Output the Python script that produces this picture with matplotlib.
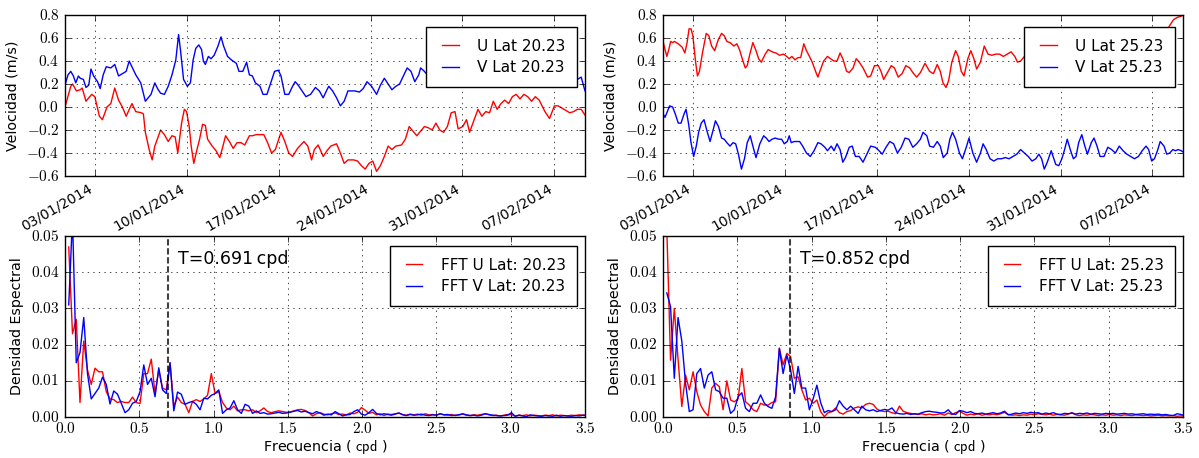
import numpy as np
import pandas as pd
import matplotlib
matplotlib.use("Agg")
import matplotlib.pyplot as plt
import matplotlib.dates as mdates
from matplotlib.ticker import FuncFormatter, MultipleLocator

plt.style.use("classic")
plt.rcParams["mathtext.fontset"] = "cm"
plt.rcParams["font.family"] = "DejaVu Sans"

# ---------------- datos ----------------
inicio = pd.Timestamp("2013-12-31 17:30")
duracion_dias = 39.6

# Lat 20.23 (dias desde el inicio, velocidad m/s)
dias_u20 = [0.00, 0.44, 0.58, 0.87, 1.16, 1.31, 1.60, 1.81, 2.04, 2.27,
            2.62, 2.85, 3.20, 3.49, 3.79, 4.08, 4.37, 4.66, 5.10, 5.39,
            5.82, 5.97, 6.12, 6.41, 6.64, 6.84, 7.28, 7.57, 7.86, 8.15,
            8.39, 8.59, 8.88, 9.09, 9.26, 9.46, 9.61, 9.81, 10.05, 10.25,
            10.48, 10.69, 10.86, 11.21, 11.50, 11.79, 12.03, 12.23, 12.52, 12.81,
            13.10, 13.40, 13.69, 14.04, 14.27, 14.56, 15.14, 15.43, 15.73, 16.02,
            16.45, 16.74, 17.04, 17.33, 17.71, 18.20, 18.49, 18.78, 18.99, 19.28,
            19.66, 19.95, 20.24, 20.68, 20.97, 21.26, 21.55, 21.99, 22.28, 22.57,
            22.86, 23.15, 23.44, 23.73, 24.02, 24.32, 24.61, 24.90, 25.19, 25.63,
            25.92, 26.21, 26.50, 26.79, 27.08, 27.37, 27.66, 27.96, 28.25, 28.54,
            28.83, 29.12, 29.41, 29.70, 29.94, 30.29, 30.58, 30.81, 31.16, 31.45,
            31.75, 32.04, 32.33, 32.62, 32.91, 33.20, 33.49, 33.78, 34.07, 34.36,
            34.65, 34.94, 35.24, 35.53, 35.82, 36.11, 36.55, 36.90, 37.27, 37.56,
            38.00, 38.44, 38.73, 39.02, 39.31, 39.60]
u20 = [0.00, 0.18, 0.20, 0.14, 0.15, 0.165, 0.05, 0.08, 0.11, 0.09,
       -0.08, -0.11, 0.00, 0.03, 0.165, 0.06, 0.00, -0.08, 0.03, -0.04,
       -0.05, -0.06, -0.22, -0.37, -0.46, -0.34, -0.20, -0.24, -0.30, -0.25,
       -0.26, -0.40, -0.14, -0.02, -0.04, -0.17, -0.34, -0.49, -0.37, -0.28,
       -0.15, -0.16, -0.28, -0.34, -0.38, -0.44, -0.34, -0.25, -0.30, -0.36,
       -0.31, -0.31, -0.33, -0.25, -0.25, -0.24, -0.24, -0.31, -0.40, -0.37,
       -0.22, -0.30, -0.40, -0.43, -0.36, -0.30, -0.34, -0.46, -0.37, -0.33,
       -0.43, -0.38, -0.34, -0.32, -0.40, -0.49, -0.46, -0.46, -0.47, -0.51,
       -0.54, -0.49, -0.47, -0.56, -0.51, -0.43, -0.34, -0.37, -0.34, -0.33,
       -0.28, -0.17, -0.21, -0.25, -0.21, -0.17, -0.18, -0.20, -0.14, -0.20,
       -0.22, -0.17, -0.05, -0.04, -0.19, -0.17, -0.11, -0.22, -0.11, -0.02,
       -0.08, -0.04, -0.05, 0.05, -0.02, 0.03, 0.06, 0.03, 0.09, 0.11,
       0.07, 0.11, 0.09, 0.05, 0.09, 0.06, -0.04, -0.10, 0.01, 0.01,
       -0.02, -0.05, -0.04, -0.02, -0.02, -0.07]

dias_v20 = [0.00, 0.23, 0.44, 0.64, 0.82, 1.02, 1.16, 1.40, 1.60, 1.81,
            1.98, 2.18, 2.48, 2.68, 2.91, 3.14, 3.49, 3.79, 4.08, 4.37,
            4.66, 4.89, 5.10, 5.39, 5.77, 5.97, 6.12, 6.41, 6.55, 6.84,
            7.05, 7.28, 7.57, 7.86, 8.15, 8.44, 8.65, 8.79, 9.03, 9.32,
            9.55, 9.76, 9.96, 10.19, 10.40, 10.54, 10.69, 10.92, 11.12, 11.36,
            11.65, 11.88, 12.08, 12.38, 12.67, 13.05, 13.25, 13.54, 13.83, 14.04,
            14.27, 14.50, 14.85, 15.08, 15.38, 15.67, 15.96, 16.25, 16.45, 16.74,
            17.04, 17.33, 17.53, 17.76, 18.05, 18.35, 18.70, 19.07, 19.37, 19.66,
            19.95, 20.09, 20.38, 20.68, 20.97, 21.26, 21.55, 21.78, 22.07, 22.42,
            22.71, 23.00, 23.35, 23.73, 24.02, 24.32, 24.61, 24.90, 25.19, 25.48,
            25.77, 26.06, 26.35, 26.64, 26.94, 27.08, 27.37, 27.66, 27.96, 28.25,
            28.54, 28.83, 29.12, 29.41, 29.79, 29.99, 30.43, 30.87, 31.45, 31.89,
            32.33, 32.91, 33.49, 34.07, 34.65, 35.24, 35.82, 36.40, 36.98, 37.56,
            38.00, 38.44, 38.73, 39.02, 39.31, 39.60]
v20 = [0.19, 0.28, 0.31, 0.27, 0.21, 0.27, 0.25, 0.24, 0.17, 0.19,
       0.33, 0.27, 0.22, 0.16, 0.28, 0.35, 0.34, 0.37, 0.27, 0.29,
       0.31, 0.40, 0.35, 0.28, 0.21, 0.12, 0.05, 0.09, 0.11, 0.21,
       0.16, 0.12, 0.11, 0.18, 0.28, 0.41, 0.63, 0.50, 0.24, 0.18,
       0.21, 0.41, 0.51, 0.54, 0.50, 0.40, 0.37, 0.44, 0.42, 0.45,
       0.53, 0.61, 0.53, 0.44, 0.41, 0.38, 0.31, 0.31, 0.39, 0.28,
       0.27, 0.21, 0.18, 0.11, 0.11, 0.21, 0.31, 0.32, 0.27, 0.11,
       0.11, 0.18, 0.22, 0.19, 0.14, 0.09, 0.11, 0.17, 0.14, 0.08,
       0.15, 0.18, 0.14, 0.08, 0.01, 0.05, 0.14, 0.14, 0.14, 0.13,
       0.16, 0.22, 0.18, 0.11, 0.19, 0.25, 0.20, 0.15, 0.18, 0.20,
       0.27, 0.34, 0.31, 0.22, 0.28, 0.34, 0.31, 0.27, 0.25, 0.28,
       0.30, 0.28, 0.27, 0.26, 0.21, 0.30, 0.33, 0.30, 0.35, 0.30,
       0.33, 0.36, 0.31, 0.34, 0.30, 0.33, 0.35, 0.30, 0.28, 0.32,
       0.27, 0.24, 0.24, 0.24, 0.26, 0.14]

# Lat 25.23
dias_u25 = [0.00, 0.15, 0.29, 0.44, 0.58, 0.73, 0.87, 1.16, 1.46, 1.66,
            1.83, 1.98, 2.13, 2.27, 2.48, 2.62, 2.77, 3.00, 3.29, 3.49,
            3.70, 3.93, 4.22, 4.46, 4.66, 4.86, 5.10, 5.39, 5.62, 5.82,
            6.03, 6.26, 6.41, 6.61, 6.84, 7.08, 7.28, 7.48, 7.78, 8.01,
            8.30, 8.59, 8.88, 9.17, 9.41, 9.61, 9.81, 10.05, 10.28, 10.48,
            10.72, 10.92, 11.15, 11.36, 11.65, 11.79, 11.94, 12.23, 12.52, 12.75,
            13.02, 13.25, 13.48, 13.69, 13.98, 14.18, 14.47, 14.71, 14.94, 15.23,
            15.58, 15.81, 16.10, 16.39, 16.60, 16.80, 17.04, 17.38, 17.62, 17.91,
            18.20, 18.49, 18.78, 19.02, 19.31, 19.60, 19.95, 20.30, 20.59, 20.88,
            21.11, 21.32, 21.55, 21.75, 21.99, 22.28, 22.48, 22.71, 22.92, 23.21,
            23.44, 23.67, 23.88, 24.17, 24.46, 24.75, 25.04, 25.33, 25.63, 25.92,
            26.21, 26.50, 26.79, 26.99, 27.23, 27.52, 27.81, 28.25, 28.68, 29.12,
            29.56, 29.99, 30.43, 30.87, 31.30, 31.74, 32.18, 32.61, 33.05, 33.63,
            34.22, 34.80, 35.38, 35.96, 36.55, 37.13, 37.71, 38.15, 38.59, 38.88,
            39.17, 39.46, 39.60]
u25 = [0.57, 0.50, 0.44, 0.50, 0.57, 0.56, 0.57, 0.55, 0.52, 0.47,
       0.56, 0.68, 0.68, 0.62, 0.39, 0.27, 0.31, 0.47, 0.64, 0.62,
       0.53, 0.49, 0.59, 0.64, 0.62, 0.57, 0.56, 0.53, 0.55, 0.50,
       0.42, 0.34, 0.36, 0.46, 0.56, 0.49, 0.42, 0.39, 0.46, 0.50,
       0.48, 0.47, 0.45, 0.46, 0.44, 0.42, 0.44, 0.41, 0.43, 0.43,
       0.55, 0.49, 0.44, 0.39, 0.30, 0.26, 0.31, 0.40, 0.44, 0.42,
       0.40, 0.40, 0.47, 0.42, 0.31, 0.30, 0.34, 0.42, 0.39, 0.34,
       0.26, 0.27, 0.36, 0.36, 0.31, 0.24, 0.29, 0.36, 0.34, 0.26,
       0.29, 0.36, 0.34, 0.30, 0.26, 0.30, 0.38, 0.31, 0.29, 0.37,
       0.31, 0.21, 0.17, 0.23, 0.39, 0.49, 0.44, 0.31, 0.27, 0.42,
       0.49, 0.42, 0.33, 0.39, 0.53, 0.46, 0.45, 0.46, 0.46, 0.44,
       0.46, 0.48, 0.44, 0.39, 0.40, 0.44, 0.42, 0.48, 0.43, 0.50,
       0.45, 0.40, 0.47, 0.43, 0.50, 0.46, 0.42, 0.48, 0.44, 0.50,
       0.45, 0.49, 0.43, 0.47, 0.52, 0.48, 0.55, 0.62, 0.71, 0.76,
       0.78, 0.79, 0.80]

dias_v25 = [0.00, 0.15, 0.29, 0.50, 0.73, 0.93, 1.16, 1.37, 1.60, 1.75,
            1.95, 2.13, 2.33, 2.53, 2.71, 2.91, 3.12, 3.35, 3.58, 3.79,
            3.99, 4.22, 4.46, 4.66, 4.86, 5.10, 5.33, 5.53, 5.74, 5.97,
            6.20, 6.41, 6.64, 6.84, 7.08, 7.37, 7.66, 7.86, 8.07, 8.30,
            8.53, 8.82, 9.03, 9.23, 9.46, 9.61, 9.76, 9.99, 10.19, 10.40,
            10.63, 10.92, 11.21, 11.50, 11.79, 12.03, 12.32, 12.52, 12.81, 13.02,
            13.25, 13.48, 13.69, 13.89, 14.18, 14.41, 14.65, 14.94, 15.23, 15.52,
            15.81, 16.16, 16.45, 16.69, 16.98, 17.27, 17.56, 17.85, 18.14, 18.43,
            18.72, 19.02, 19.31, 19.60, 19.80, 20.09, 20.30, 20.59, 20.88, 21.11,
            21.34, 21.64, 21.84, 22.04, 22.28, 22.57, 22.80, 23.09, 23.30, 23.59,
            23.88, 24.17, 24.37, 24.61, 24.90, 25.19, 25.48, 25.77, 26.06, 26.35,
            26.64, 26.94, 27.23, 27.52, 27.81, 28.10, 28.39, 28.62, 28.83, 29.03,
            29.26, 29.56, 29.70, 29.91, 30.14, 30.37, 30.58, 30.78, 31.01, 31.25,
            31.45, 31.65, 31.89, 32.12, 32.32, 32.61, 32.82, 33.05, 33.28, 33.58,
            33.87, 34.16, 34.45, 34.74, 35.03, 35.32, 35.61, 35.90, 36.20, 36.49,
            36.78, 36.98, 37.21, 37.42, 37.65, 37.86, 38.15, 38.36, 38.59, 38.82,
            39.02, 39.23, 39.46, 39.60]
v25 = [-0.06, -0.09, -0.05, 0.01, 0.00, -0.06, -0.14, -0.14, -0.06, -0.02,
       -0.15, -0.31, -0.43, -0.34, -0.22, -0.14, -0.11, -0.21, -0.30, -0.21,
       -0.12, -0.17, -0.27, -0.28, -0.31, -0.34, -0.31, -0.32, -0.41, -0.54,
       -0.45, -0.31, -0.25, -0.34, -0.44, -0.32, -0.25, -0.27, -0.30, -0.28,
       -0.27, -0.28, -0.28, -0.32, -0.30, -0.25, -0.31, -0.30, -0.30, -0.30,
       -0.34, -0.40, -0.43, -0.38, -0.31, -0.32, -0.35, -0.38, -0.34, -0.38,
       -0.32, -0.37, -0.48, -0.44, -0.35, -0.34, -0.43, -0.43, -0.48, -0.41,
       -0.34, -0.35, -0.38, -0.41, -0.35, -0.30, -0.32, -0.40, -0.35, -0.27,
       -0.28, -0.35, -0.32, -0.28, -0.22, -0.25, -0.34, -0.35, -0.30, -0.34,
       -0.44, -0.40, -0.28, -0.22, -0.28, -0.40, -0.45, -0.35, -0.27, -0.40,
       -0.48, -0.40, -0.32, -0.37, -0.45, -0.47, -0.45, -0.45, -0.44, -0.45,
       -0.43, -0.41, -0.37, -0.40, -0.43, -0.47, -0.45, -0.41, -0.45, -0.54,
       -0.48, -0.38, -0.43, -0.50, -0.51, -0.45, -0.37, -0.28, -0.37, -0.45,
       -0.43, -0.31, -0.24, -0.34, -0.41, -0.31, -0.27, -0.34, -0.43, -0.43,
       -0.35, -0.37, -0.40, -0.34, -0.38, -0.41, -0.43, -0.45, -0.43, -0.38,
       -0.34, -0.37, -0.47, -0.45, -0.38, -0.30, -0.34, -0.41, -0.40, -0.37,
       -0.38, -0.37, -0.38, -0.39]

# espectros: un valor por cada frecuencia de Fourier k / duracion (k = 1..139)
fft_u20 = [0.047, 0.023, 0.027, 0.004, 0.021, 0.013, 0.009, 0.0135, 0.0125, 0.0125,
           0.007, 0.005, 0.0048, 0.004, 0.0043, 0.004, 0.004, 0.0055, 0.004, 0.0037,
           0.012, 0.012, 0.016, 0.0065, 0.013, 0.008, 0.0075, 0.015, 0.003, 0.0055,
           0.004, 0.0035, 0.0012, 0.0043, 0.0048, 0.0043, 0.005, 0.006, 0.012, 0.0065,
           0.007, 0.004, 0.0025, 0.002, 0.003, 0.0017, 0.002, 0.002, 0.0017, 0.002,
           0.0012, 0.0017, 0.0025, 0.0015, 0.0012, 0.0015, 0.0017, 0.0015, 0.0013, 0.0014,
           0.0017, 0.002, 0.0021, 0.0018, 0.0012, 0.0003, 0.0009, 0.0012, 0.0008, 0.0006,
           0.0009, 0.0011, 0.0007, 0.0008, 0.0006, 0.0011, 0.0009, 0.0013, 0.0026, 0.0019,
           0.001, 0.0013, 0.0006, 0.0009, 0.0004, 0.0008, 0.0007, 0.0009, 0.0011, 0.0007,
           0.0005, 0.0008, 0.0006, 0.0008, 0.0005, 0.0009, 0.0006, 0.0007, 0.0005, 0.0009,
           0.0006, 0.0005, 0.0007, 0.0004, 0.0006, 0.0008, 0.0005, 0.0004, 0.0006, 0.0005,
           0.0007, 0.0009, 0.0006, 0.0004, 0.0005, 0.0003, 0.0005, 0.0007, 0.0006, 0.0003,
           0.0005, 0.0004, 0.0006, 0.0003, 0.0005, 0.0004, 0.0003, 0.0005, 0.0004, 0.0006,
           0.0003, 0.0005, 0.0004, 0.0003, 0.0005, 0.0004, 0.0006, 0.0005, 0.0006]
fft_v20 = [0.031, 0.055, 0.015, 0.0178, 0.0275, 0.012, 0.005, 0.0065, 0.008, 0.011,
           0.009, 0.0036, 0.0072, 0.0063, 0.0038, 0.0012, 0.002, 0.0038, 0.0043, 0.007,
           0.0144, 0.009, 0.0107, 0.0056, 0.0136, 0.0075, 0.0065, 0.015, 0.0017, 0.0069,
           0.0063, 0.0035, 0.004, 0.0043, 0.0035, 0.002, 0.0052, 0.005, 0.006, 0.0065,
           0.0075, 0.001, 0.002, 0.0025, 0.0045, 0.002, 0.001, 0.0035, 0.003, 0.001,
           0.0017, 0.001, 0.0012, 0.0008, 0.0009, 0.0011, 0.0013, 0.0010, 0.0011, 0.0013,
           0.0016, 0.0018, 0.0014, 0.0016, 0.0012, 0.0009, 0.0015, 0.0011, 0.0005, 0.0008,
           0.0006, 0.0015, 0.0009, 0.0003, 0.0006, 0.0007, 0.0015, 0.002, 0.0008, 0.0005,
           0.0012, 0.0021, 0.001, 0.0006, 0.0009, 0.0007, 0.0005, 0.0008, 0.0011, 0.0006,
           0.0004, 0.0007, 0.0005, 0.0006, 0.0008, 0.0005, 0.0004, 0.0006, 0.0005, 0.0009,
           0.0006, 0.0007, 0.0004, 0.0005, 0.0006, 0.0009, 0.0006, 0.0004, 0.0005, 0.0003,
           0.0005, 0.0009, 0.0007, 0.0005, 0.0004, 0.0003, 0.0004, 0.0005, 0.0012, 0.0002,
           0.0005, 0.0003, 0.0001, 0.0006, 0.0004, 0.0003, 0.0002, 0.0004, 0.0003, 0.0002,
           0.0005, 0.0002, 0.0004, 0.0003, 0.0002, 0.0004, 0.0003, 0.0005, 0.0004]
fft_u25 = [0.052, 0.0157, 0.030, 0.016, 0.0029, 0.0116, 0.0075, 0.0125, 0.007, 0.0033,
           0.0015, 0.0003, 0.008, 0.0093, 0.0084, 0.002, 0.010, 0.0047, 0.0042, 0.005,
           0.0134, 0.0042, 0.0033, 0.002, 0.0015, 0.0038, 0.0033, 0.0033, 0.004, 0.0042,
           0.019, 0.0144, 0.0176, 0.0167, 0.0107, 0.0111, 0.0075, 0.0047, 0.0052, 0.0038,
           0.0047, 0.0015, 0.0001, 0.0012, 0.0015, 0.0025, 0.0012, 0.0008, 0.0015, 0.0018,
           0.0025, 0.0028, 0.0025, 0.0035, 0.0038, 0.0035, 0.0022, 0.0017, 0.0015, 0.0016,
           0.0012, 0.0009, 0.003, 0.0016, 0.0012, 0.001, 0.0008, 0.0007, 0.0009, 0.0006,
           0.0008, 0.0006, 0.0007, 0.0009, 0.0005, 0.0011, 0.0007, 0.0012, 0.0016, 0.0010,
           0.0005, 0.0008, 0.0006, 0.0009, 0.0005, 0.0007, 0.0006, 0.0008, 0.0006, 0.0009,
           0.0013, 0.0007, 0.0005, 0.0006, 0.0004, 0.0006, 0.0005, 0.0008, 0.0006, 0.0009,
           0.0007, 0.0006, 0.0008, 0.0005, 0.0007, 0.0006, 0.0005, 0.0008, 0.0012, 0.0006,
           0.0004, 0.0006, 0.0005, 0.0007, 0.0006, 0.0004, 0.0006, 0.0005, 0.0007, 0.0005,
           0.0006, 0.0004, 0.0006, 0.0005, 0.0004, 0.0006, 0.0005, 0.0004, 0.0005, 0.0003,
           0.0004, 0.0005, 0.0003, 0.0004, 0.0003, 0.0004, 0.0002, 0.0003, 0.0003]
fft_v25 = [0.0343, 0.0305, 0.0107, 0.0275, 0.021, 0.0093, 0.0015, 0.002, 0.012, 0.0134,
           0.008, 0.0116, 0.0125, 0.0075, 0.007, 0.0052, 0.0052, 0.001, 0.002, 0.0056,
           0.0067, 0.0024, 0.0015, 0.0038, 0.0038, 0.0061, 0.0038, 0.0029, 0.0024, 0.0056,
           0.019, 0.012, 0.0171, 0.013, 0.0065, 0.014, 0.008, 0.008, 0.002, 0.005,
           0.0088, 0.004, 0.0012, 0.0018, 0.0015, 0.002, 0.0045, 0.003, 0.002, 0.003,
           0.002, 0.001, 0.003, 0.002, 0.0017, 0.0020, 0.0015, 0.0018, 0.0021, 0.0019,
           0.0025, 0.0012, 0.0009, 0.0008, 0.0010, 0.0007, 0.0009, 0.0008, 0.0012, 0.0015,
           0.0016, 0.0014, 0.0013, 0.0011, 0.0012, 0.0020, 0.0009, 0.0007, 0.0018, 0.0016,
           0.0012, 0.0015, 0.0010, 0.0009, 0.0011, 0.0008, 0.0010, 0.0012, 0.0009, 0.0011,
           0.0016, 0.0006, 0.0008, 0.0011, 0.0009, 0.0012, 0.0010, 0.0013, 0.0011, 0.0012,
           0.0008, 0.0011, 0.0009, 0.0012, 0.0008, 0.0007, 0.0010, 0.0009, 0.0011, 0.0008,
           0.0010, 0.0009, 0.0011, 0.0008, 0.0010, 0.0009, 0.0008, 0.0010, 0.0009, 0.0010,
           0.0008, 0.0009, 0.0010, 0.0008, 0.0009, 0.0007, 0.0008, 0.0009, 0.0007, 0.0008,
           0.0007, 0.0008, 0.0006, 0.0007, 0.0005, 0.0004, 0.0009, 0.0007, 0.0004]

# frecuencia dominante marcada en cada espectro (cpd)
pico_20 = 0.691
pico_25 = 0.852

frecuencia = np.arange(1, len(fft_u20) + 1) / duracion_dias


def fechas(dias):
    return inicio + pd.to_timedelta(dias, unit="D")


def formato(dec):
    return FuncFormatter(lambda v, p: r"$%.*f$" % (dec, v))


def leyenda(ax, y_ancla):
    ax.legend(loc="upper right", bbox_to_anchor=(0.985, y_ancla),
              borderaxespad=0.0, prop={"size": 11}, handlelength=1.7,
              handletextpad=0.9, borderpad=0.75, labelspacing=0.45,
              numpoints=2, fancybox=False, framealpha=1.0)


fig = plt.figure(figsize=(11.99, 4.58), dpi=100, facecolor="white")
ax_tl = fig.add_axes([0.0542, 0.6157, 0.4337, 0.3515])
ax_tr = fig.add_axes([0.553, 0.6157, 0.4337, 0.3515])
ax_bl = fig.add_axes([0.0542, 0.0895, 0.4337, 0.395])
ax_br = fig.add_axes([0.553, 0.0895, 0.4337, 0.395])

# ---- series de velocidad ----
series = [
    (ax_tl, dias_u20, u20, dias_v20, v20, "20.23"),
    (ax_tr, dias_u25, u25, dias_v25, v25, "25.23"),
]
for ax, du, u, dv, v, lat in series:
    ax.plot(fechas(du), u, color="r", lw=1.0, label="U Lat " + lat)
    ax.plot(fechas(dv), v, color="b", lw=1.0, label="V Lat " + lat)
    ax.set_xlim(fechas(du)[0], fechas(du)[-1])
    ax.set_ylim(-0.6, 0.8)
    ax.yaxis.set_major_locator(MultipleLocator(0.2))
    ax.yaxis.set_major_formatter(formato(1))
    ax.xaxis.set_major_locator(mdates.WeekdayLocator(byweekday=mdates.FR))
    ax.xaxis.set_major_formatter(mdates.DateFormatter("%d/%m/%Y"))
    for lab in ax.get_xticklabels():
        lab.set_rotation(30)
        lab.set_ha("right")
        lab.set_fontsize(10)
    ax.tick_params(axis="y", labelsize=11)
    ax.tick_params(axis="x", pad=4)
    ax.set_ylabel("Velocidad (m/s)", fontsize=10.3)
    ax.grid(True, color="k", linestyle=":", linewidth=0.5)
    leyenda(ax, 0.925)

# ---- espectros ----
espectros = [
    (ax_bl, fft_u20, fft_v20, pico_20, "20.23"),
    (ax_br, fft_u25, fft_v25, pico_25, "25.23"),
]
for ax, fu, fv, pico, lat in espectros:
    ax.plot(frecuencia, fu, color="r", lw=1.0, label="FFT U Lat: " + lat)
    ax.plot(frecuencia, fv, color="b", lw=1.0, label="FFT V Lat: " + lat)
    ax.axvline(pico, color="k", alpha=0.75, lw=1.5, dashes=(4.5, 2.0))
    ax.text(pico + 0.07, 0.0437, "T=%.3f\u2009cpd" % pico, fontsize=12.5,
            va="center", ha="left")
    ax.set_xlim(0, 3.5)
    ax.set_ylim(0, 0.05)
    ax.xaxis.set_major_locator(MultipleLocator(0.5))
    ax.yaxis.set_major_locator(MultipleLocator(0.01))
    ax.xaxis.set_major_formatter(formato(1))
    ax.yaxis.set_major_formatter(formato(2))
    ax.tick_params(labelsize=11)
    ax.tick_params(axis="x", pad=3)
    ax.set_ylabel("Densidad Espectral", fontsize=10.3)
    ax.set_xlabel("Frecuencia ( $\\mathsf{cpd}$ )", fontsize=10.3, labelpad=1)
    ax.grid(True, color="k", linestyle=":", linewidth=0.5)
    leyenda(ax, 0.945)

fig.savefig("out.png", dpi=100, facecolor="white")
